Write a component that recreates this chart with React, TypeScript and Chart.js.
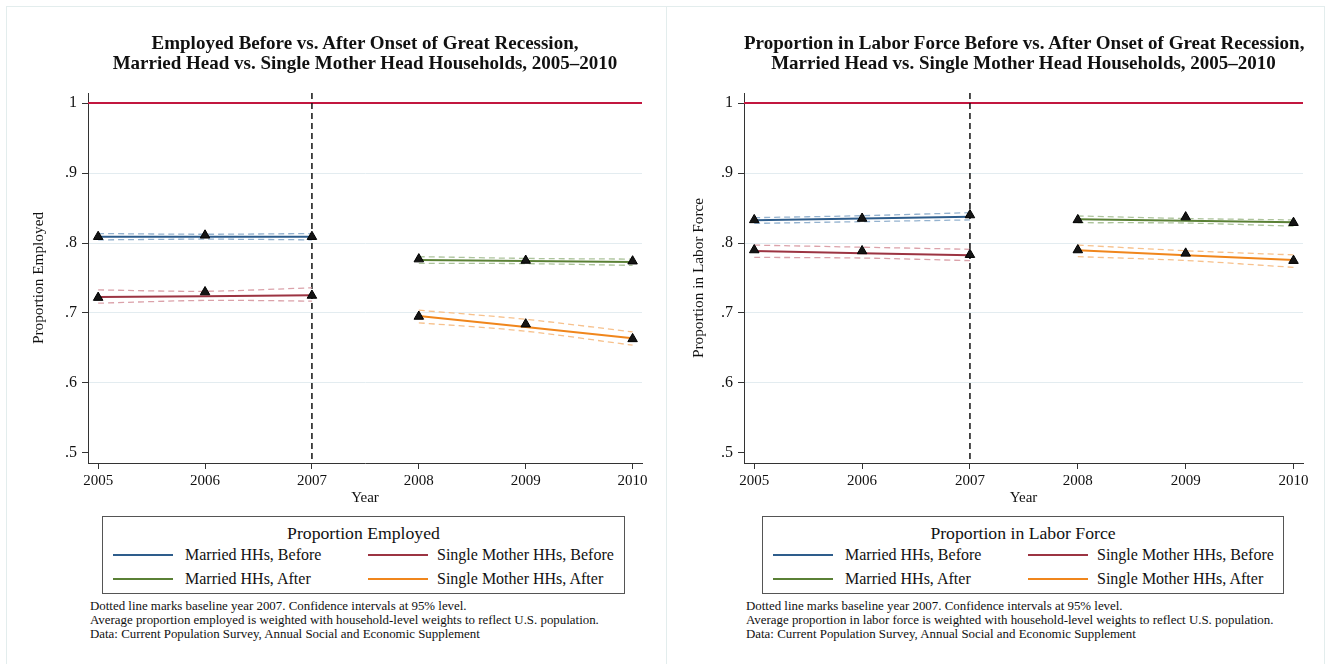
import React, { useEffect, useRef } from 'react';
import { Chart, registerables } from 'chart.js';

Chart.register(...registerables);

const FONT = '"Liberation Serif", "Times New Roman", Times, serif';

// ---------- shared axis data ----------
const beforeYears = [2005, 2006, 2007];
const afterYears = [2008, 2009, 2010];
const yearTicks = [2005, 2006, 2007, 2008, 2009, 2010];
const yTicks = [0.5, 0.6, 0.7, 0.8, 0.9, 1];
const baselineYear = 2007;
const referenceValue = 1;
const xRange = [2004.905, 2010.088];
const yRange = [0.4857, 1.0143];

// ---------- Panel 1: Proportion Employed ----------
const empMarriedBefore = [0.809, 0.811, 0.809];
const empMarriedBeforeFit = [0.809, 0.809, 0.809];
const empMarriedBeforeHi = [0.8135, 0.8125, 0.8135];
const empMarriedBeforeLo = [0.8045, 0.8055, 0.8045];

const empSingleBefore = [0.722, 0.730, 0.725];
const empSingleBeforeFit = [0.723, 0.724, 0.7255];
const empSingleBeforeHi = [0.733, 0.731, 0.736];
const empSingleBeforeLo = [0.714, 0.718, 0.717];

const empMarriedAfter = [0.777, 0.775, 0.774];
const empMarriedAfterFit = [0.7757, 0.7743, 0.7729];
const empMarriedAfterHi = [0.7805, 0.778, 0.777];
const empMarriedAfterLo = [0.771, 0.7705, 0.768];

const empSingleAfter = [0.695, 0.684, 0.663];
const empSingleAfterFit = [0.6957, 0.680, 0.664];
const empSingleAfterHi = [0.704, 0.691, 0.673];
const empSingleAfterLo = [0.686, 0.674, 0.654];

// ---------- Panel 2: Proportion in Labor Force ----------
const lfMarriedBefore = [0.833, 0.835, 0.840];
const lfMarriedBeforeFit = [0.8324, 0.835, 0.8376];
const lfMarriedBeforeHi = [0.8362, 0.839, 0.8433];
const lfMarriedBeforeLo = [0.828, 0.8305, 0.833];

const lfSingleBefore = [0.790, 0.7886, 0.7833];
const lfSingleBeforeFit = [0.7886, 0.7855, 0.7824];
const lfSingleBeforeHi = [0.797, 0.794, 0.791];
const lfSingleBeforeLo = [0.7795, 0.7785, 0.7748];

const lfMarriedAfter = [0.833, 0.837, 0.829];
const lfMarriedAfterFit = [0.834, 0.8318, 0.8295];
const lfMarriedAfterHi = [0.8386, 0.835, 0.833];
const lfMarriedAfterLo = [0.829, 0.8285, 0.824];

const lfSingleAfter = [0.790, 0.7852, 0.7748];
const lfSingleAfterFit = [0.7895, 0.7826, 0.7757];
const lfSingleAfterHi = [0.797, 0.789, 0.783];
const lfSingleAfterLo = [0.7805, 0.775, 0.7652];

// ---------- labels ----------
const seriesLabels = ['Married HHs, Before', 'Single Mother HHs, Before', 'Married HHs, After', 'Single Mother HHs, After'];
const seriesColors = ['#2e5d8c', '#9c3442', '#5a8035', '#f0861c'];
const ciColors = ['#94b2cf', '#dba2aa', '#adc49c', '#f7c18c'];
const refLineColor = '#c2173f';

const empTitle = ['Employed Before vs. After Onset of Great Recession,', 'Married Head vs. Single Mother Head Households, 2005–2010'];
const lfTitle = ['Proportion in Labor Force Before vs. After Onset of Great Recession,', 'Married Head vs. Single Mother Head Households, 2005–2010'];
const empNotes = [
  'Dotted line marks baseline year 2007. Confidence intervals at 95% level.',
  'Average proportion employed is weighted with household-level weights to reflect U.S. population.',
  'Data: Current Population Survey, Annual Social and Economic Supplement',
];
const lfNotes = [
  'Dotted line marks baseline year 2007. Confidence intervals at 95% level.',
  'Average proportion in labor force is weighted with household-level weights to reflect U.S. population.',
  'Data: Current Population Survey, Annual Social and Economic Supplement',
];

type Series = { years: number[]; pts: number[]; fit: number[]; hi: number[]; lo: number[] };

const empSeries: Series[] = [
  { years: beforeYears, pts: empMarriedBefore, fit: empMarriedBeforeFit, hi: empMarriedBeforeHi, lo: empMarriedBeforeLo },
  { years: beforeYears, pts: empSingleBefore, fit: empSingleBeforeFit, hi: empSingleBeforeHi, lo: empSingleBeforeLo },
  { years: afterYears, pts: empMarriedAfter, fit: empMarriedAfterFit, hi: empMarriedAfterHi, lo: empMarriedAfterLo },
  { years: afterYears, pts: empSingleAfter, fit: empSingleAfterFit, hi: empSingleAfterHi, lo: empSingleAfterLo },
];
const lfSeries: Series[] = [
  { years: beforeYears, pts: lfMarriedBefore, fit: lfMarriedBeforeFit, hi: lfMarriedBeforeHi, lo: lfMarriedBeforeLo },
  { years: beforeYears, pts: lfSingleBefore, fit: lfSingleBeforeFit, hi: lfSingleBeforeHi, lo: lfSingleBeforeLo },
  { years: afterYears, pts: lfMarriedAfter, fit: lfMarriedAfterFit, hi: lfMarriedAfterHi, lo: lfMarriedAfterLo },
  { years: afterYears, pts: lfSingleAfter, fit: lfSingleAfterFit, hi: lfSingleAfterHi, lo: lfSingleAfterLo },
];

const refPlugin = {
  id: 'refLines',
  beforeDatasetsDraw(chart: any) {
    const { ctx, chartArea, scales } = chart;
    const y1 = scales.y.getPixelForValue(referenceValue);
    const xb = scales.x.getPixelForValue(baselineYear);
    ctx.save();
    ctx.strokeStyle = refLineColor;
    ctx.lineWidth = 2;
    ctx.beginPath();
    ctx.moveTo(chartArea.left, y1);
    ctx.lineTo(chartArea.right, y1);
    ctx.stroke();
    ctx.strokeStyle = '#111';
    ctx.lineWidth = 1.5;
    ctx.setLineDash([6, 4]);
    ctx.beginPath();
    ctx.moveTo(xb, chartArea.top);
    ctx.lineTo(xb, chartArea.bottom);
    ctx.stroke();
    ctx.restore();
  },
};

function PlotCanvas(props: { series: Series[]; yTitle: string; width: number; height: number; yWidth: number; padRight: number }) {
  const ref = useRef<HTMLCanvasElement>(null);
  useEffect(() => {
    const datasets: any[] = [];
    props.series.forEach((s, k) => {
      const mk = (arr: number[]) => s.years.map((x, i) => ({ x, y: arr[i] }));
      datasets.push({ type: 'line', data: mk(s.hi), borderColor: ciColors[k], borderWidth: 1.3, borderDash: [6, 4], pointRadius: 0, tension: 0.3, order: 3 });
      datasets.push({ type: 'line', data: mk(s.lo), borderColor: ciColors[k], borderWidth: 1.3, borderDash: [6, 4], pointRadius: 0, tension: 0.3, order: 3 });
      datasets.push({ type: 'line', data: mk(s.fit), borderColor: seriesColors[k], borderWidth: 2, pointRadius: 0, tension: 0, order: 2 });
      datasets.push({ type: 'line', data: mk(s.pts), showLine: false, pointStyle: 'triangle', pointRadius: 5.5, pointBackgroundColor: '#151515', pointBorderColor: '#000', pointBorderWidth: 1, order: 1 });
    });
    const chart = new Chart(ref.current as HTMLCanvasElement, {
      type: 'line',
      data: { datasets },
      options: {
        animation: false,
        responsive: false,
        maintainAspectRatio: false,
        events: [],
        layout: { padding: { top: 87, right: props.padRight, left: 0, bottom: 0 } },
        plugins: { legend: { display: false }, tooltip: { enabled: false }, title: { display: false } },
        scales: {
          x: {
            type: 'linear',
            min: xRange[0],
            max: xRange[1],
            afterBuildTicks: (s: any) => { s.ticks = yearTicks.map((v) => ({ value: v })); },
            afterFit: (s: any) => { s.height = props.height - 457; },
            grid: { drawOnChartArea: false, tickLength: 6, tickColor: '#333', tickWidth: 1 },
            border: { color: '#333', width: 1 },
            ticks: { font: { family: FONT, size: 15 }, color: '#111', padding: 3, maxRotation: 0, autoSkip: false, callback: (v: any) => String(v) },
            title: { display: true, text: 'Year', font: { family: FONT, size: 15 }, color: '#111', padding: { top: 0, bottom: 3 } },
          },
          y: {
            type: 'linear',
            min: yRange[0],
            max: yRange[1],
            afterBuildTicks: (s: any) => { s.ticks = yTicks.map((v) => ({ value: v })); },
            afterFit: (s: any) => { s.width = props.yWidth; },
            grid: {
              color: (c: any) => (c.tick && c.tick.value === 0.5 ? 'rgba(0,0,0,0)' : '#e3ecf0'),
              lineWidth: 1,
              tickLength: 6,
              tickColor: '#333',
              tickWidth: 1,
            },
            border: { color: '#333', width: 1 },
            ticks: {
              font: { family: FONT, size: 16 },
              color: '#111',
              padding: 5,
              autoSkip: false,
              callback: (v: any) => (v === 1 ? '1' : '.' + Math.round(Number(v) * 10)),
            },
            title: { display: true, text: props.yTitle, font: { family: FONT, size: 15.3 }, color: '#111', padding: { top: 24, bottom: 0 } },
          },
        },
      },
      plugins: [refPlugin],
    } as any);
    return () => chart.destroy();
  }, []);
  return <canvas ref={ref} width={props.width} height={props.height} style={{ width: props.width, height: props.height, display: 'block' }} />;
}

function Legend(props: { left: number; width: number; title: string }) {
  const items = seriesLabels.map((lab, i) => ({ lab, color: seriesColors[i], col: i % 2, row: Math.floor(i / 2) }));
  return (
    <div style={{ position: 'absolute', left: props.left, top: 516, width: props.width, height: 78, border: '1px solid #555', boxSizing: 'border-box', fontFamily: FONT, color: '#111' }}>
      <div style={{ position: 'absolute', left: 0, width: '100%', top: 6, textAlign: 'center', fontSize: 17.7, lineHeight: '20px' }}>{props.title}</div>
      {items.map((it, i) => (
        <React.Fragment key={i}>
          <div style={{ position: 'absolute', left: it.col === 0 ? 10 : 265, top: 38 + it.row * 24 - 1, width: 60, height: 2, background: it.color }} />
          <div style={{ position: 'absolute', left: it.col === 0 ? 82 : 334, top: 38 + it.row * 24 - 10, fontSize: 16, lineHeight: '20px', whiteSpace: 'nowrap' }}>{it.lab}</div>
        </React.Fragment>
      ))}
    </div>
  );
}

function Panel(props: {
  left: number; canvasWidth: number; yWidth: number; padRight: number;
  plotLeft: number; plotWidth: number; title: string[]; yTitle: string; series: Series[];
  legendLeft: number; legendWidth: number; legendTitle: string; notes: string[]; notesLeft: number;
}) {
  return (
    <>
      <div style={{ position: 'absolute', left: props.left, top: 6 }}>
        <PlotCanvas series={props.series} yTitle={props.yTitle} width={props.canvasWidth} height={504} yWidth={props.yWidth} padRight={props.padRight} />
      </div>
      <div style={{ position: 'absolute', left: props.plotLeft, width: props.plotWidth, top: 33, textAlign: 'center', fontFamily: FONT, fontWeight: 'bold', fontSize: 19, lineHeight: '20px', color: '#111', whiteSpace: 'nowrap' }}>
        {props.title.map((t, i) => <div key={i}>{t}</div>)}
      </div>
      <Legend left={props.legendLeft} width={props.legendWidth} title={props.legendTitle} />
      <div style={{ position: 'absolute', left: props.notesLeft, top: 599, fontFamily: FONT, fontSize: 12.9, lineHeight: '14px', color: '#111', whiteSpace: 'nowrap' }}>
        {props.notes.map((t, i) => <div key={i}>{t}</div>)}
      </div>
    </>
  );
}

export default function App() {
  return (
    <div style={{ position: 'absolute', left: 0, top: 0, width: 1327, height: 664, background: '#fff', overflow: 'hidden' }}>
      <div style={{ position: 'absolute', left: 6, top: 6, width: 661, height: 670, borderLeft: '1px solid #e3eded', borderTop: '1px solid #e3eded', borderRight: '1px solid #e3eded', boxSizing: 'border-box' }} />
      <div style={{ position: 'absolute', left: 666, top: 6, width: 659, height: 670, borderTop: '1px solid #e3eded', borderRight: '1px solid #e3eded', boxSizing: 'border-box' }} />
      <Panel
        left={6} canvasWidth={660} yWidth={82} padRight={24}
        plotLeft={88} plotWidth={554} title={empTitle} yTitle="Proportion Employed" series={empSeries}
        legendLeft={102} legendWidth={523} legendTitle="Proportion Employed" notes={empNotes} notesLeft={90}
      />
      <Panel
        left={666} canvasWidth={659} yWidth={78} padRight={22}
        plotLeft={744} plotWidth={559} title={lfTitle} yTitle="Proportion in Labor Force" series={lfSeries}
        legendLeft={762} legendWidth={522} legendTitle="Proportion in Labor Force" notes={lfNotes} notesLeft={746}
      />
    </div>
  );
}
